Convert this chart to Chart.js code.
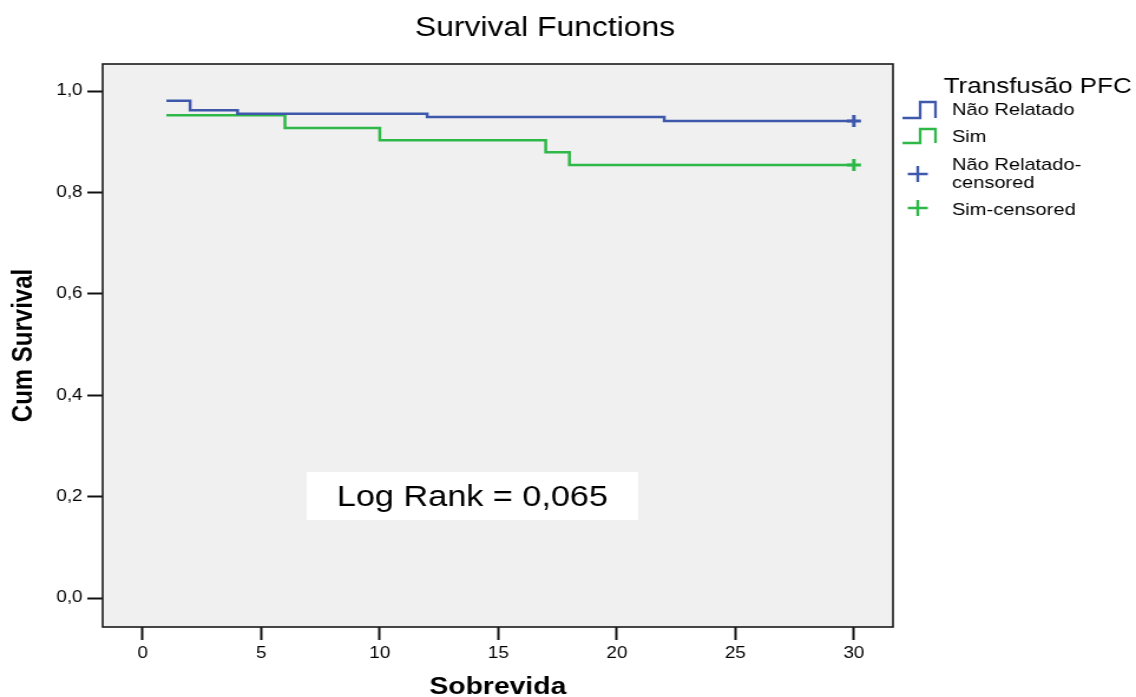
<!DOCTYPE html>
<html>
<head>
<meta charset="utf-8">
<title>Survival Functions</title>
<script src="https://cdn.jsdelivr.net/npm/chart.js@4.4.1/dist/chart.umd.min.js"></script>
<style>
  html, body { margin: 0; padding: 0; background: #fff; }
  #chart { display: block; }
</style>
</head>
<body>
<!-- o original está esticado na horizontal: canvas lógico de 963px exibido em 1136px -->
<canvas id="chart" width="963" height="697" style="width:1136px;height:697px"></canvas>
<script>
// Kaplan-Meier: tempos de evento e sobrevida acumulada
const tempoNaoRelatado = [1, 2, 4, 12, 22, 30];
const survNaoRelatado  = [0.981, 0.962, 0.955, 0.949, 0.941, 0.941];
const tempoSim         = [1, 6, 10, 17, 18, 30];
const survSim          = [0.952, 0.927, 0.903, 0.879, 0.854, 0.854];

// casos censurados
const censNaoRelatadoX = [30];
const censNaoRelatadoY = [0.941];
const censSimX         = [30];
const censSimY         = [0.854];

const xTicks      = [0, 5, 10, 15, 20, 25, 30];
const yTicks      = [0, 0.2, 0.4, 0.6, 0.8, 1.0];
const yTickLabels = ['0,0', '0,2', '0,4', '0,6', '0,8', '1,0'];

const legendTitle  = 'Transfusão PFC';
const legendLabels = ['Não Relatado', 'Sim', ['Não Relatado-', 'censored'], 'Sim-censored'];
const logRankText  = 'Log Rank = 0,065';

const AZUL  = '#3e58ac';
const VERDE = '#2eb848';
const FONT  = '"Liberation Sans", Arial, Helvetica, sans-serif';

const toPoints = (xs, ys) => xs.map((x, i) => ({ x, y: ys[i] }));

// caixa do Log Rank em coordenadas de dados
const LOG_RANK_BOX = { x0: 6.92, x1: 20.9, y0: 0.2485, y1: 0.154 };

const survivalDecor = {
  id: 'survivalDecor',
  beforeDraw(chart) {
    const { ctx, chartArea: a } = chart;
    ctx.save();
    ctx.fillStyle = '#f0f0f0';
    ctx.fillRect(a.left, a.top, a.right - a.left, a.bottom - a.top);
    ctx.restore();
  },
  afterDatasetsDraw(chart) {
    const { ctx, chartArea: a, scales } = chart;
    ctx.save();

    // moldura da área do gráfico
    ctx.strokeStyle = '#1a1a1a';
    ctx.lineWidth = 1.6;
    ctx.strokeRect(a.left, a.top, a.right - a.left, a.bottom - a.top);

    // caixa Log Rank
    const bx0 = scales.x.getPixelForValue(LOG_RANK_BOX.x0);
    const bx1 = scales.x.getPixelForValue(LOG_RANK_BOX.x1);
    const by0 = scales.y.getPixelForValue(LOG_RANK_BOX.y0);
    const by1 = scales.y.getPixelForValue(LOG_RANK_BOX.y1);
    ctx.fillStyle = '#fff';
    ctx.fillRect(bx0, by0, bx1 - bx0, by1 - by0);
    ctx.fillStyle = '#000';
    ctx.font = `29px ${FONT}`;
    ctx.textAlign = 'center';
    ctx.textBaseline = 'alphabetic';
    ctx.fillText(logRankText, (bx0 + bx1) / 2, by1 - 13.5);

    // título
    ctx.font = `27px ${FONT}`;
    ctx.fillText('Survival Functions', 462, 35.5);

    // legenda
    ctx.textAlign = 'left';
    ctx.font = `22px ${FONT}`;
    ctx.fillText(legendTitle, 800, 93);

    const stepIcon = (color, yLow, yHigh) => {
      ctx.strokeStyle = color;
      ctx.lineWidth = 2.3;
      ctx.beginPath();
      ctx.moveTo(765, yLow);
      ctx.lineTo(780, yLow);
      ctx.lineTo(780, yHigh);
      ctx.lineTo(793, yHigh);
      ctx.lineTo(793, yLow);
      ctx.stroke();
    };
    const crossIcon = (color, cx, cy) => {
      ctx.strokeStyle = color;
      ctx.lineWidth = 2.4;
      ctx.beginPath();
      ctx.moveTo(cx - 8.5, cy);
      ctx.lineTo(cx + 8.5, cy);
      ctx.moveTo(cx, cy - 8);
      ctx.lineTo(cx, cy + 8);
      ctx.stroke();
    };

    ctx.font = `17px ${FONT}`;
    ctx.fillStyle = '#000';
    stepIcon(AZUL, 118, 102);
    ctx.fillText(legendLabels[0], 807, 115);
    stepIcon(VERDE, 143, 129);
    ctx.fillText(legendLabels[1], 807, 141.5);
    crossIcon(AZUL, 778, 174);
    ctx.fillText(legendLabels[2][0], 807, 170);
    ctx.fillText(legendLabels[2][1], 807, 188);
    crossIcon(VERDE, 778, 208);
    ctx.fillText(legendLabels[3], 807, 215);

    ctx.restore();
  },
};

new Chart(document.getElementById('chart'), {
  type: 'line',
  data: {
    datasets: [
      {
        label: 'Não Relatado',
        data: toPoints(tempoNaoRelatado, survNaoRelatado),
        borderColor: AZUL,
        borderWidth: 2.5,
        stepped: 'before',
        pointRadius: 0,
        fill: false,
      },
      {
        label: 'Sim',
        data: toPoints(tempoSim, survSim),
        borderColor: VERDE,
        borderWidth: 2.5,
        stepped: 'before',
        pointRadius: 0,
        fill: false,
      },
      {
        label: 'Não Relatado-censored',
        type: 'scatter',
        data: toPoints(censNaoRelatadoX, censNaoRelatadoY),
        pointStyle: 'cross',
        pointRadius: 6,
        borderColor: AZUL,
        borderWidth: 3,
        showLine: false,
      },
      {
        label: 'Sim-censored',
        type: 'scatter',
        data: toPoints(censSimX, censSimY),
        pointStyle: 'cross',
        pointRadius: 6,
        borderColor: VERDE,
        borderWidth: 3,
        showLine: false,
      },
    ],
  },
  options: {
    responsive: false,
    animation: false,
    layout: { padding: { left: 0, right: 206, top: 64, bottom: 0 } },
    plugins: {
      legend:  { display: false },
      title:   { display: false },
      tooltip: { enabled: false },
    },
    scales: {
      x: {
        type: 'linear',
        min: -1.69,
        max: 31.65,
        afterFit: s => { s.height = 70; },
        afterBuildTicks: s => { s.ticks = xTicks.map(v => ({ value: v })); },
        grid: {
          drawOnChartArea: false,
          drawTicks: true,
          tickLength: 13,
          tickColor: '#111',
          tickWidth: 2,
        },
        border: { display: false },
        ticks: {
          color: '#000',
          padding: 4,
          maxRotation: 0,
          font: { family: FONT, size: 16 },
        },
        title: {
          display: true,
          text: 'Sobrevida',
          color: '#000',
          font: { family: FONT, size: 24, weight: 'bold', lineHeight: 1 },
          padding: { top: 0, bottom: -2 },
        },
      },
      y: {
        type: 'linear',
        min: -0.0572,
        max: 1.0533,
        afterFit: s => { s.width = 87; },
        afterBuildTicks: s => { s.ticks = yTicks.map(v => ({ value: v })); },
        grid: {
          drawOnChartArea: false,
          drawTicks: true,
          tickLength: 13,
          tickColor: '#111',
          tickWidth: 2,
        },
        border: { display: false },
        ticks: {
          color: '#000',
          padding: 4,
          font: { family: FONT, size: 16 },
          callback: (v, i) => yTickLabels[i],
        },
        title: {
          display: true,
          text: 'Cum Survival',
          color: '#000',
          font: { family: FONT, size: 24, weight: 'bold', lineHeight: 1.2 },
          padding: { top: 5.5, bottom: 0 },
        },
      },
    },
  },
  plugins: [survivalDecor],
});
</script>
</body>
</html>
